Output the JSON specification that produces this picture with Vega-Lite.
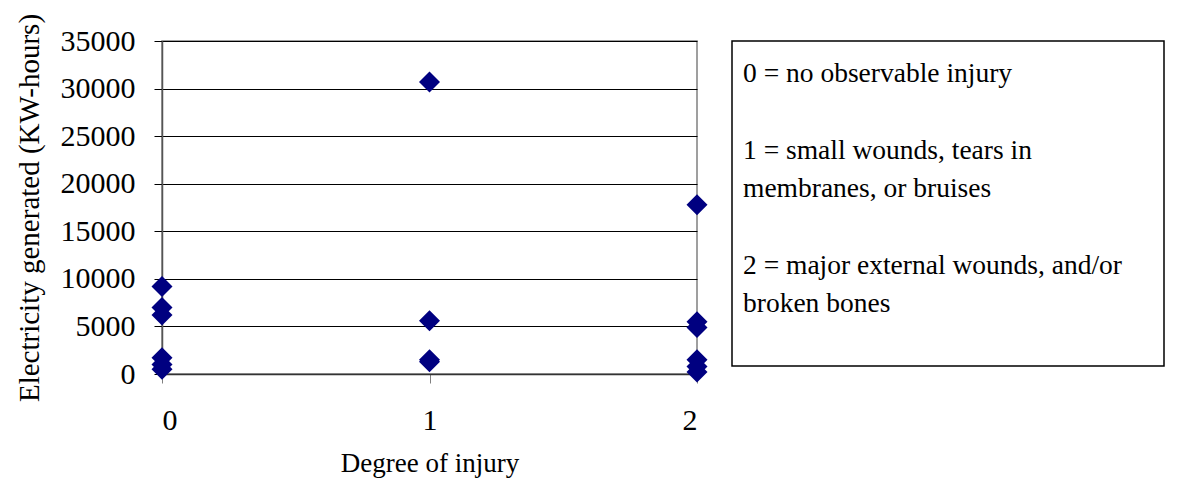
{
  "$schema": "https://vega.github.io/schema/vega-lite/v6.json",
  "background": "white",
  "padding": {"left": 14, "top": 12, "right": 14, "bottom": 2},
  "config": {
    "font": "Liberation Serif",
    "view": {"stroke": "#808080", "strokeWidth": 1.5},
    "concat": {"spacing": 22}
  },
  "hconcat": [
    {
      "width": 535,
      "height": 333,
      "data": {
        "values": [
          {"injury": 0, "kwh": 9200},
          {"injury": 0, "kwh": 7000},
          {"injury": 0, "kwh": 6200},
          {"injury": 0, "kwh": 1700},
          {"injury": 0, "kwh": 1000},
          {"injury": 0, "kwh": 500},
          {"injury": 1, "kwh": 30700},
          {"injury": 1, "kwh": 5600},
          {"injury": 1, "kwh": 1500},
          {"injury": 1, "kwh": 1300},
          {"injury": 2, "kwh": 17800},
          {"injury": 2, "kwh": 5500},
          {"injury": 2, "kwh": 4900},
          {"injury": 2, "kwh": 1500},
          {"injury": 2, "kwh": 800},
          {"injury": 2, "kwh": 200}
        ]
      },
      "mark": {"type": "point", "shape": "diamond", "filled": true, "size": 441, "color": "#000080", "opacity": 1, "strokeWidth": 0},
      "encoding": {
        "x": {
          "field": "injury",
          "type": "quantitative",
          "scale": {"domain": [0, 2], "nice": false},
          "axis": {
            "title": "Degree of injury",
            "values": [0, 1, 2],
            "tickCount": 3,
            "format": ".0f",
            "grid": false,
            "labelOverlap": false,
            "labelFont": "Liberation Serif",
            "titleFont": "Liberation Serif",
            "labelFontSize": 30,
            "titleFontSize": 27,
            "titleFontWeight": "normal",
            "labelColor": "#000",
            "titleColor": "#000",
            "domainColor": "#333",
            "domainWidth": 1.5,
            "tickColor": "#808080",
            "tickSize": 9,
            "labelPadding": 22,
            "titlePadding": 15
          }
        },
        "y": {
          "field": "kwh",
          "type": "quantitative",
          "scale": {"domain": [0, 35000], "nice": false},
          "axis": {
            "title": "Electricity generated (KW-hours)",
            "values": [0, 5000, 10000, 15000, 20000, 25000, 30000, 35000],
            "format": ".0f",
            "grid": true,
            "labelOverlap": false,
            "labelFont": "Liberation Serif",
            "titleFont": "Liberation Serif",
            "gridColor": "#000",
            "gridWidth": 1,
            "labelFontSize": 30,
            "titleFontSize": 29,
            "titleFontWeight": "normal",
            "labelColor": "#000",
            "titleColor": "#000",
            "domainColor": "#555",
            "domainWidth": 1.5,
            "tickColor": "#000",
            "tickSize": 8,
            "labelPadding": 19,
            "titlePadding": 16
          }
        }
      }
    },
    {
      "width": 432,
      "height": 325,
      "view": {"stroke": "#000", "strokeWidth": 1.5},
      "data": {
        "values": [
          {"line": 0, "text": "0 = no observable injury"},
          {"line": 2, "text": "1 = small wounds, tears in"},
          {"line": 3, "text": "membranes, or bruises"},
          {"line": 5, "text": "2 = major external wounds, and/or"},
          {"line": 6, "text": "broken bones"}
        ]
      },
      "mark": {"type": "text", "align": "left", "baseline": "middle", "fontSize": 27.5, "dx": 11, "color": "#000", "font": "Liberation Serif"},
      "encoding": {
        "x": {"datum": 0, "type": "quantitative", "scale": {"domain": [0, 1]}, "axis": null},
        "y": {"field": "line", "type": "quantitative", "scale": {"domain": [-0.862, 7.624], "reverse": true, "nice": false, "zero": false}, "axis": null},
        "text": {"field": "text"}
      }
    }
  ]
}
